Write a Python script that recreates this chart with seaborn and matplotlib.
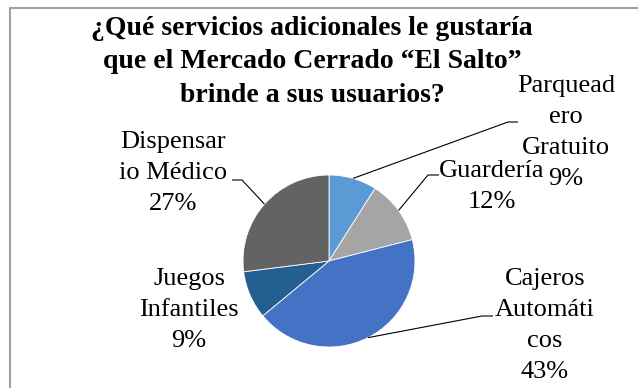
import matplotlib
matplotlib.use("Agg")
import matplotlib.pyplot as plt
import seaborn as sns
import numpy as np
from matplotlib.patches import Rectangle

# ---- data ----
categories = ["Parqueadero Gratuito", "Guardería", "Cajeros Automáticos",
              "Juegos Infantiles", "Dispensario Médico"]
label_texts = ["Parquead\nero\nGratuito", "Guardería", "Cajeros\nAutomáti\ncos",
               "Juegos\nInfantiles", "Dispensar\nio Médico"]
percentages = [9, 12, 43, 9, 27]
colors = ["#5B9BD5", "#A5A5A5", "#4472C4", "#255E91", "#636363"]
title = "¿Qué servicios adicionales le gustaría\nque el Mercado Cerrado “El Salto”\nbrinde a sus usuarios?"

# ---- layout (pixel coords, y down; y = baseline of last line) ----
W, H = 638, 388
cx, cy, R = 329, 261, 86
label_pos = [(566, 185), (492, 208), (545, 378), (189, 347), (173, 210)]
leader_elbow = [((508, 122), (518, 122)), ((428, 175), (439, 175)),
                ((482, 316), (493, 316)), None, ((242, 180), (232, 180))]

sns.set_theme(style="white")
plt.rcParams['font.family'] = ['Liberation Serif', 'DejaVu Serif']

fig = plt.figure(figsize=(W / 100, H / 100), dpi=100)
ax = fig.add_axes([0, 0, 1, 1])
wedges, _ = ax.pie(percentages, colors=sns.color_palette(colors), startangle=90,
                   counterclock=False, center=(cx, H - cy), radius=R,
                   wedgeprops=dict(edgecolor='white', linewidth=0.6))
ax.set_xlim(0, W)
ax.set_ylim(0, H)
ax.set_aspect('equal')
ax.axis('off')

for w, lab, p, (lx, ly), el in zip(wedges, label_texts, percentages, label_pos, leader_elbow):
    ax.text(lx, H - ly, f"{lab}\n{p}%", ha='center', va='baseline',
            multialignment='center', fontsize=19, linespacing=1.53, color='black')
    if el is not None:
        mid = np.deg2rad((w.theta1 + w.theta2) / 2)
        ax_x = cx + R * np.cos(mid)
        ax_y = (H - cy) + R * np.sin(mid)
        xs = [ax_x, el[0][0], el[1][0]]
        ys = [ax_y, H - el[0][1], H - el[1][1]]
        ax.plot(xs, ys, color='black', lw=0.8, solid_capstyle='butt')

fig.text(312 / W, 1 - 102 / H, title, ha='center', va='baseline', fontsize=20,
         fontweight='bold', linespacing=1.45, color='black')

fig.patches.append(Rectangle((10 / W, -0.2), 1.5, (H - 8) / H + 0.2,
                             transform=fig.transFigure, fill=False,
                             edgecolor='#A0A0A0', lw=1.5, clip_on=False))

fig.savefig("out.png", dpi=100)
